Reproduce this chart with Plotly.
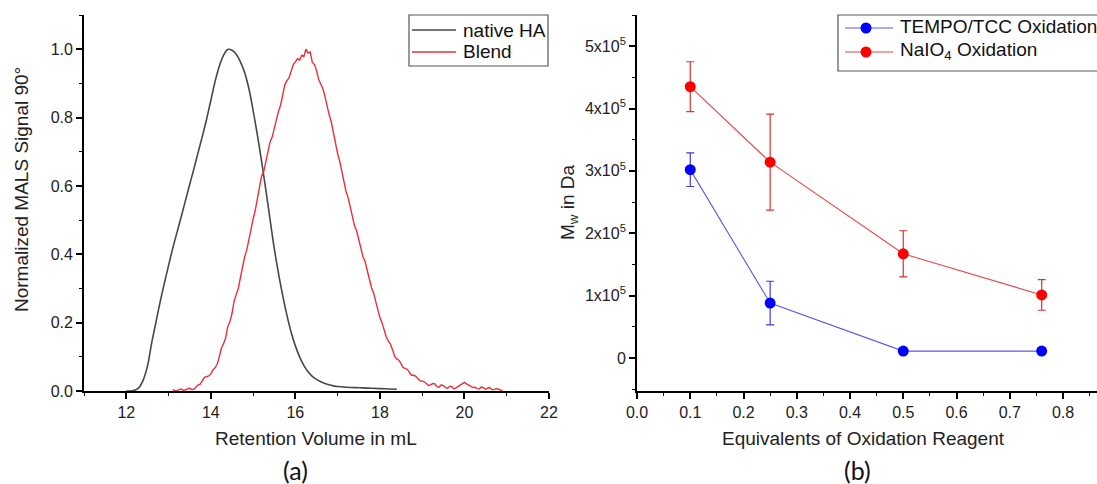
import plotly.graph_objects as go

# ---------------- Panel (a) data ----------------
ha_x = [12.0, 12.1, 12.2, 12.3, 12.4, 12.5, 12.6, 12.7, 12.8, 12.9,
        13.0, 13.1, 13.2, 13.3, 13.4, 13.5, 13.6, 13.7, 13.8, 13.9,
        14.0, 14.1, 14.2, 14.3, 14.4, 14.5, 14.6, 14.7, 14.8, 14.9,
        15.0, 15.1, 15.2, 15.3, 15.4, 15.5, 15.6, 15.7, 15.8, 15.9,
        16.0, 16.1, 16.2, 16.3, 16.4, 16.5, 16.6, 16.7, 16.8, 16.9,
        17.0, 17.2, 17.4, 17.6, 17.8, 18.0, 18.2, 18.4]
ha_y = [0.000, 0.000, 0.002, 0.010, 0.032, 0.072, 0.140, 0.200, 0.260, 0.315,
        0.367, 0.418, 0.464, 0.510, 0.557, 0.604, 0.650, 0.698, 0.745, 0.795,
        0.850, 0.905, 0.950, 0.982, 0.999, 0.997, 0.985, 0.963, 0.932, 0.885,
        0.821, 0.750, 0.673, 0.590, 0.503, 0.418, 0.345, 0.280, 0.222, 0.172,
        0.132, 0.100, 0.075, 0.056, 0.043, 0.034, 0.027, 0.022, 0.018, 0.015,
        0.013, 0.011, 0.010, 0.009, 0.008, 0.007, 0.006, 0.005]

blend_x = [13.10, 13.15, 13.20, 13.25, 13.30, 13.35, 13.40, 13.45, 13.50, 13.55,
           13.60, 13.65, 13.70, 13.75, 13.80, 13.85, 13.90, 13.95, 14.00, 14.05,
           14.10, 14.15, 14.20, 14.25, 14.30, 14.35, 14.40, 14.45, 14.50, 14.55,
           14.60, 14.65, 14.70, 14.75, 14.80, 14.85, 14.90, 14.95, 15.00, 15.05,
           15.10, 15.15, 15.20, 15.25, 15.30, 15.35, 15.40, 15.45, 15.50, 15.55,
           15.60, 15.65, 15.70, 15.75, 15.80, 15.85, 15.90, 15.95, 16.00, 16.05,
           16.10, 16.15, 16.20, 16.25, 16.30, 16.35, 16.40, 16.45, 16.50, 16.55,
           16.60, 16.65, 16.70, 16.75, 16.80, 16.85, 16.90, 16.95, 17.00, 17.05,
           17.10, 17.15, 17.20, 17.25, 17.30, 17.35, 17.40, 17.45, 17.50, 17.55,
           17.60, 17.65, 17.70, 17.75, 17.80, 17.85, 17.90, 17.95, 18.00, 18.05,
           18.10, 18.15, 18.20, 18.25, 18.30, 18.35, 18.40, 18.45, 18.50, 18.55,
           18.60, 18.65, 18.70, 18.75, 18.80, 18.85, 18.90, 18.95, 19.00, 19.05,
           19.10, 19.15, 19.20, 19.25, 19.30, 19.35, 19.40, 19.45, 19.50, 19.55,
           19.60, 19.65, 19.70, 19.75, 19.80, 19.85, 19.90, 19.95, 20.00, 20.05,
           20.10, 20.15, 20.20, 20.25, 20.30, 20.35, 20.40, 20.45, 20.50, 20.55,
           20.60, 20.65, 20.70, 20.75, 20.80, 20.85, 20.90]
blend_y = [0.004, 0.001, 0.002, 0.005, 0.006, 0.002, 0.003, 0.007, 0.008, 0.004,
           0.005, 0.012, 0.018, 0.020, 0.030, 0.040, 0.042, 0.044, 0.050, 0.062,
           0.068, 0.078, 0.100, 0.125, 0.138, 0.155, 0.188, 0.202, 0.226, 0.262,
           0.282, 0.300, 0.332, 0.368, 0.392, 0.412, 0.443, 0.478, 0.503, 0.528,
           0.562, 0.601, 0.628, 0.641, 0.672, 0.707, 0.728, 0.742, 0.768, 0.800,
           0.818, 0.836, 0.868, 0.895, 0.908, 0.916, 0.935, 0.955, 0.963, 0.972,
           0.968, 0.982, 0.978, 1.000, 0.988, 0.992, 0.962, 0.955, 0.938, 0.912,
           0.898, 0.885, 0.862, 0.830, 0.808, 0.787, 0.757, 0.718, 0.694, 0.672,
           0.642, 0.606, 0.583, 0.565, 0.537, 0.503, 0.483, 0.468, 0.442, 0.412,
           0.393, 0.378, 0.354, 0.325, 0.303, 0.287, 0.260, 0.232, 0.214, 0.200,
           0.180, 0.158, 0.146, 0.137, 0.120, 0.101, 0.093, 0.090, 0.080, 0.068,
           0.066, 0.063, 0.054, 0.046, 0.046, 0.043, 0.036, 0.030, 0.029, 0.027,
           0.022, 0.016, 0.018, 0.022, 0.021, 0.013, 0.011, 0.018, 0.016, 0.010,
           0.008, 0.013, 0.013, 0.006, 0.009, 0.013, 0.016, 0.022, 0.025, 0.021,
           0.017, 0.012, 0.010, 0.011, 0.007, 0.006, 0.012, 0.009, 0.005, 0.008,
           0.010, 0.004, 0.004, 0.007, 0.006, 0.002, 0.003]

# ---------------- Panel (b) data ----------------
equiv = [0.1, 0.25, 0.5, 0.76]
tempo_mw = [3.02e5, 0.88e5, 0.11e5, 0.11e5]
tempo_err = [0.27e5, 0.35e5, 0.0, 0.0]
naio4_mw = [4.35e5, 3.14e5, 1.67e5, 1.01e5]
naio4_err = [0.40e5, 0.77e5, 0.37e5, 0.245e5]

y_ticks_b = [0, 1e5, 2e5, 3e5, 4e5, 5e5]
y_ticktext_b = ["0", "1x10<sup>5</sup>", "2x10<sup>5</sup>", "3x10<sup>5</sup>",
                "4x10<sup>5</sup>", "5x10<sup>5</sup>"]

series_a_names = ["native HA", "Blend"]
series_b_names = ["TEMPO/TCC Oxidation", "NaIO<sub>4</sub> Oxidation"]

W, H = 1097, 484
FONT = "Liberation Sans, Arial, sans-serif"
C_HA, C_BLEND = "#474747", "#e8303a"
C_TEMPO_L, C_TEMPO_M = "#5a5ae8", "#0000ff"
C_NA_L, C_NA_M = "#e24848", "#ff0000"


def px(x):
    return x / W


def py(y):
    return (H - y) / H


fig = go.Figure()

fig.add_trace(go.Scatter(x=ha_x, y=ha_y, mode="lines", name=series_a_names[0],
                         line=dict(color=C_HA, width=1.6, shape="spline"),
                         xaxis="x", yaxis="y"))
fig.add_trace(go.Scatter(x=blend_x, y=blend_y, mode="lines", name=series_a_names[1],
                         line=dict(color=C_BLEND, width=1.4),
                         xaxis="x", yaxis="y"))

fig.add_trace(go.Scatter(x=equiv, y=tempo_mw, mode="lines+markers",
                         name=series_b_names[0],
                         line=dict(color=C_TEMPO_L, width=1.1),
                         marker=dict(color=C_TEMPO_M, size=11),
                         error_y=dict(type="data", array=tempo_err, visible=True,
                                      color="#3b3bdd", thickness=1.2, width=4),
                         xaxis="x2", yaxis="y2"))
fig.add_trace(go.Scatter(x=equiv, y=naio4_mw, mode="lines+markers",
                         name=series_b_names[1],
                         line=dict(color=C_NA_L, width=1.1),
                         marker=dict(color=C_NA_M, size=11),
                         error_y=dict(type="data", array=naio4_err, visible=True,
                                      color="#dd3030", thickness=1.2, width=4),
                         xaxis="x2", yaxis="y2"))

ydom = [py(391), py(15)]
minor_common = dict(ticks="outside", ticklen=3, tickcolor="black", tickwidth=1.2)
axis_common = dict(showline=True, linecolor="black", linewidth=1.8, ticks="outside",
                   ticklen=6, tickwidth=1.5, tickcolor="black", showgrid=False,
                   zeroline=False, tickfont=dict(family=FONT, size=16, color="#222"),
                   mirror=False)

TITLE_FONT = dict(family=FONT, size=19, color="#222")
LEG_FONT = dict(family=FONT, size=19, color="#111")
LAB_FONT = dict(family="Lato, Open Sans, sans-serif", size=25, color="#111")

annotations = [
    # axis titles
    dict(text="Retention Volume in mL", x=px(316), y=py(438), font=TITLE_FONT),
    dict(text="Normalized MALS Signal 90°", x=px(21), y=py(190), textangle=-90, font=TITLE_FONT),
    dict(text="Equivalents of Oxidation Reagent", x=px(863), y=py(438), font=TITLE_FONT),
    dict(text="M<sub>w</sub> in Da", x=px(569), y=py(202), textangle=-90, font=TITLE_FONT),
    # panel labels
    dict(text="(a)", x=px(295), y=py(470), font=LAB_FONT),
    dict(text="(b)", x=px(857), y=py(470), font=LAB_FONT),
    # legend texts
    dict(text=series_a_names[0], x=px(461), y=py(30), xanchor="left", font=LEG_FONT),
    dict(text=series_a_names[1], x=px(461), y=py(52), xanchor="left", font=LEG_FONT),
    dict(text=series_b_names[0], x=px(898), y=py(27), xanchor="left", font=LEG_FONT),
    dict(text=series_b_names[1], x=px(898), y=py(51), xanchor="left", font=LEG_FONT),
]
for a in annotations:
    a.update(xref="paper", yref="paper", showarrow=False)
    a.setdefault("xanchor", "center")
    a.setdefault("yanchor", "middle")

shapes = [
    # legend boxes
    dict(type="rect", x0=px(409), x1=px(548), y0=py(66), y1=py(15),
         line=dict(color="#555", width=1.2), fillcolor="white", layer="below"),
    dict(type="rect", x0=px(838), x1=px(1120), y0=py(71), y1=py(15),
         line=dict(color="#555", width=1.2), fillcolor="white", layer="below"),
    # legend line samples
    dict(type="line", x0=px(412), x1=px(456), y0=py(30), y1=py(30), line=dict(color=C_HA, width=1.6)),
    dict(type="line", x0=px(412), x1=px(456), y0=py(52), y1=py(52), line=dict(color=C_BLEND, width=1.6)),
    dict(type="line", x0=px(845), x1=px(893), y0=py(28), y1=py(28), line=dict(color=C_TEMPO_L, width=1.2)),
    dict(type="line", x0=px(845), x1=px(893), y0=py(52), y1=py(52), line=dict(color=C_NA_L, width=1.2)),
    # legend markers
    dict(type="circle", x0=px(860.5), x1=px(871.5), y0=py(33.5), y1=py(22.5),
         line=dict(color=C_TEMPO_M, width=0), fillcolor=C_TEMPO_M),
    dict(type="circle", x0=px(860.5), x1=px(871.5), y0=py(57.5), y1=py(46.5),
         line=dict(color=C_NA_M, width=0), fillcolor=C_NA_M),
]
for s in shapes:
    s.update(xref="paper", yref="paper")

fig.update_layout(
    width=W, height=H,
    margin=dict(l=0, r=0, t=0, b=0, autoexpand=False),
    paper_bgcolor="white", plot_bgcolor="rgba(0,0,0,0)",
    font=dict(family=FONT, color="#222"),
    showlegend=False,
    xaxis=dict(domain=[px(84), px(549)], range=[11, 22], tick0=12, dtick=2,
               minor=dict(dtick=1, tick0=11, **minor_common),
               anchor="y", **axis_common),
    yaxis=dict(domain=ydom, range=[0, 1.1], tick0=0, dtick=0.2, tickformat=".1f",
               minor=dict(dtick=0.1, **minor_common),
               anchor="x", **axis_common),
    xaxis2=dict(domain=[px(637), 1.0], range=[0, 0.8 * (W - 637) / (1063 - 637)],
                tick0=0, dtick=0.1, tickformat=".1f",
                minor=dict(dtick=0.05, **minor_common),
                anchor="y2", **axis_common),
    yaxis2=dict(domain=ydom, range=[-0.53e5, 5.5e5], tickvals=y_ticks_b, ticktext=y_ticktext_b,
                minor=dict(dtick=0.5e5, tick0=0, **minor_common),
                anchor="x2", **axis_common),
    annotations=annotations,
    shapes=shapes,
)

fig.write_html("out.html", config={"displayModeBar": False},
               post_script="document.body.style.margin='0px';")
